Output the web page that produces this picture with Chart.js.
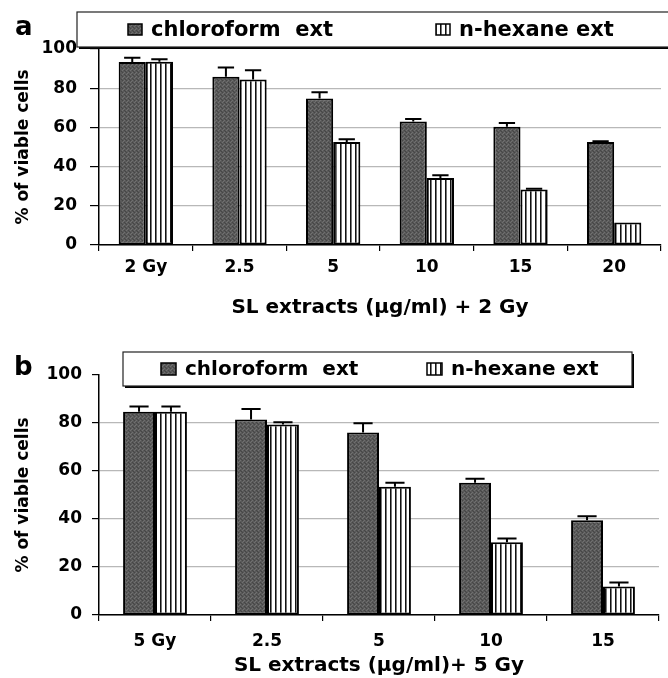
<!DOCTYPE html>
<html>
<head>
<meta charset="utf-8">
<script src="https://cdn.jsdelivr.net/npm/chart.js@4.4.1/dist/chart.umd.min.js"></script>
<style>
  html,body{margin:0;padding:0;background:#fff;}
  #wrap{position:relative;width:668px;height:678px;}
  canvas{position:absolute;left:0;}
  #chartA{top:0;}
  #chartB{top:320px;}
</style>
</head>
<body>
<div id="wrap">
  <canvas id="chartA" width="668" height="320"></canvas>
  <canvas id="chartB" width="668" height="358"></canvas>
</div>
<script>
// ---- data ----
const seriesNames = ["chloroform  ext", "n-hexane ext"];
const yTitle = "% of viable cells";

// panel a : + 2 Gy
const labelsA = ["2 Gy", "2.5", "5", "10", "15", "20"];
const chloroA = [93.4, 85.8, 74.7, 63.0, 60.3, 52.5];
const chloroErrA = [2.1, 4.7, 3.2, 1.3, 2.0, 0.4];
const hexaneA = [93.5, 84.4, 52.6, 34.2, 28.3, 11.5];
const hexaneErrA = [1.3, 4.7, 1.4, 1.4, 0.4, 0];
const xTitleA = "SL extracts (\u00b5g/ml) + 2 Gy";

// panel b : + 5 Gy
const labelsB = ["5 Gy", "2.5", "5", "10", "15"];
const chloroB = [84.7, 81.5, 76.0, 55.1, 39.5];
const chloroErrB = [2.2, 4.3, 3.9, 1.7, 1.6];
const hexaneB = [84.7, 79.4, 53.4, 30.3, 11.9];
const hexaneErrB = [2.2, 0.9, 1.7, 1.6, 1.6];
const xTitleB = "SL extracts (\u00b5g/ml)+ 5 Gy";

const yTicks = [0, 20, 40, 60, 80, 100];

Chart.defaults.font.family = "'DejaVu Sans', sans-serif";
Chart.defaults.font.weight = "bold";
Chart.defaults.color = "#000";

// ---- fill patterns ----
function makePattern(w, h, draw){
  const c = document.createElement("canvas");
  c.width = w; c.height = h;
  const g = c.getContext("2d");
  draw(g);
  return g.createPattern(c, "repeat");
}
// dark stipple
const darkFill = makePattern(4, 4, g => {
  g.fillStyle = "#595959"; g.fillRect(0,0,4,4);
  g.fillStyle = "#707070"; g.fillRect(0,0,1,1); g.fillRect(2,2,1,1); g.fillRect(3,1,1,1);
  g.fillStyle = "#464646"; g.fillRect(1,3,1,1); g.fillRect(2,0,1,1); g.fillRect(0,2,1,1);
});
// vertical stripes
const stripeFill = makePattern(5, 1, g => {
  g.fillStyle = "#fff"; g.fillRect(0,0,5,1);
  g.fillStyle = "#111"; g.fillRect(0,0,1,1);
  g.fillStyle = "#777"; g.fillRect(1,0,1,1);
});

// ---- plugins ----
const errorBars = {
  id: "errorBars",
  afterDatasetsDraw(chart){
    const {ctx} = chart;
    const y = chart.scales.y;
    ctx.save();
    ctx.strokeStyle = "#000";
    ctx.lineWidth = 2;
    chart.data.datasets.forEach((ds, i) => {
      chart.getDatasetMeta(i).data.forEach((bar, j) => {
        const sd = ds.errors[j];
        if (!sd) return;
        const top = y.getPixelForValue(ds.data[j] + sd);
        const half = bar.width * 0.3;
        ctx.beginPath();
        ctx.moveTo(bar.x, bar.y);
        ctx.lineTo(bar.x, top);
        ctx.moveTo(bar.x - half, top);
        ctx.lineTo(bar.x + half, top);
        ctx.stroke();
      });
    });
    ctx.restore();
  }
};

const boxLegend = {
  id: "boxLegend",
  afterDraw(chart, args, o){
    const {ctx} = chart;
    const b = o.box;
    ctx.save();
    ctx.fillStyle = "#fff";
    ctx.fillRect(b.x, b.y, b.w, b.h);
    ctx.fillStyle = "#000";
    if (o.shadowBottom) ctx.fillRect(b.x + 2, b.y + b.h, b.w, o.shadowBottom);
    if (o.shadowRight) ctx.fillRect(b.x + b.w, b.y + 2, o.shadowRight, b.h);
    ctx.strokeStyle = "#222";
    ctx.lineWidth = 1.2;
    ctx.strokeRect(b.x, b.y, b.w, b.h);
    ctx.font = o.font;
    ctx.textBaseline = "middle";
    const cy = b.y + b.h / 2;
    chart.data.datasets.forEach((ds, i) => {
      const x = o.itemX[i];
      ctx.fillStyle = ds.backgroundColor;
      ctx.fillRect(x, cy - o.sw[1] / 2, o.sw[0], o.sw[1]);
      ctx.strokeStyle = "#000";
      ctx.lineWidth = 1.5;
      ctx.strokeRect(x, cy - o.sw[1] / 2, o.sw[0], o.sw[1]);
      ctx.fillStyle = "#000";
      ctx.fillText(ds.label, x + o.gap, cy + 1);
    });
    ctx.restore();
  }
};

const panelTag = {
  id: "panelTag",
  afterDraw(chart, args, o){
    const {ctx} = chart;
    ctx.save();
    ctx.font = "bold 26px 'DejaVu Sans', sans-serif";
    ctx.fillStyle = "#000";
    ctx.textBaseline = "alphabetic";
    ctx.fillText(o.text, o.x, o.y);
    ctx.restore();
  }
};

// ---- chart builder ----
function buildChart(id, labels, chloro, chloroErr, hexane, hexaneErr, xTitle, cfg){
  return new Chart(document.getElementById(id), {
    type: "bar",
    data: {
      labels: labels,
      datasets: [
        { label: seriesNames[0], data: chloro, errors: chloroErr, backgroundColor: darkFill,
          borderColor: "#000", borderWidth: 2, borderSkipped: false },
        { label: seriesNames[1], data: hexane, errors: hexaneErr, backgroundColor: stripeFill,
          borderColor: "#000", borderWidth: 2, borderSkipped: false }
      ]
    },
    options: {
      responsive: false,
      animation: false,
      datasets: { bar: { categoryPercentage: cfg.catPct, barPercentage: 1 } },
      layout: { padding: cfg.padding },
      plugins: {
        legend: { display: false },
        tooltip: { enabled: false },
        boxLegend: cfg.legend,
        panelTag: cfg.tag
      },
      scales: {
        x: {
          grid: { offset: true, drawOnChartArea: false, tickLength: 6, color: "#000", lineWidth: 1.2 },
          border: { color: "#000", width: 1.5 },
          ticks: { font: { size: 17, weight: "bold" }, padding: cfg.xPad, color: "#000" },
          title: { display: true, text: xTitle, font: { size: 20, weight: "bold" }, color: "#000",
                   padding: { top: 0, bottom: cfg.xTitlePad } },
          afterFit(s){ s.height = cfg.xHeight; }
        },
        y: {
          min: 0, max: 100,
          afterBuildTicks(s){ s.ticks = yTicks.map(v => ({ value: v })); },
          grid: {
            color: c => (c.tick && c.tick.value === 100) ? "rgba(0,0,0,0)" : "#b8b8b8",
            tickColor: "#000", tickLength: cfg.yTick, lineWidth: 1.2
          },
          border: { color: "#000", width: 1.5 },
          ticks: { font: { size: 17, weight: "bold" }, padding: cfg.yPad, color: "#000" },
          title: { display: true, text: yTitle, font: { size: 17, weight: "bold" }, color: "#000",
                   padding: { top: 13, bottom: 0 } },
          afterFit(s){ s.width = 99; }
        }
      }
    },
    plugins: [errorBars, boxLegend, panelTag]
  });
}

buildChart("chartA", labelsA, chloroA, chloroErrA, hexaneA, hexaneErrA, xTitleA, {
  catPct: 0.58,
  padding: { top: 49, right: 7, left: 0, bottom: 0 },
  xHeight: 75, xPad: 6, xTitlePad: 0, yTick: 9, yPad: 13,
  legend: { box: { x: 77, y: 12, w: 620, h: 35 }, shadowBottom: 2, shadowRight: 0,
            font: "bold 21px 'DejaVu Sans', sans-serif", itemX: [128, 436], sw: [14, 11], gap: 23 },
  tag: { text: "a", x: 15, y: 35 }
});

buildChart("chartB", labelsB, chloroB, chloroErrB, hexaneB, hexaneErrB, xTitleB, {
  catPct: 0.57,
  padding: { top: 55, right: 9, left: 0, bottom: 0 },
  xHeight: 63, xPad: 10, xTitlePad: 0, yTick: 7, yPad: 10,
  legend: { box: { x: 123, y: 32, w: 509, h: 34 }, shadowBottom: 2, shadowRight: 2,
            font: "bold 20px 'DejaVu Sans', sans-serif", itemX: [161, 427], sw: [15, 12], gap: 24 },
  tag: { text: "b", x: 14, y: 55 }
});
</script>
</body>
</html>
